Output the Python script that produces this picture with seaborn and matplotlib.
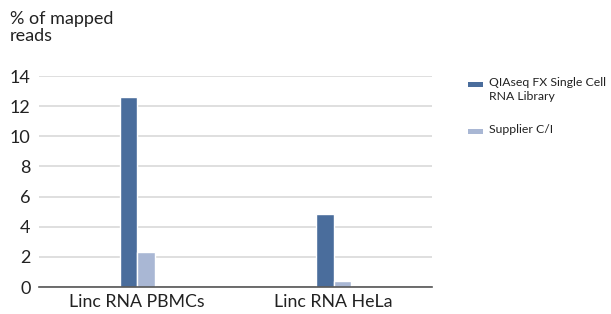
import matplotlib
matplotlib.use("Agg")
import matplotlib.pyplot as plt
from matplotlib.patches import Rectangle
import seaborn as sns
import pandas as pd

categories = ["Linc RNA PBMCs", "Linc RNA HeLa"]
series_names = ["QIAseq FX Single Cell\nRNA Library", "Supplier C/I"]
qiaseq_values = [12.6, 4.85]
supplier_values = [2.3, 0.42]
y_ticks = [0, 2, 4, 6, 8, 10, 12, 14]

df = pd.DataFrame({
    "category": categories * 2,
    "series": [series_names[0]] * 2 + [series_names[1]] * 2,
    "value": qiaseq_values + supplier_values,
})

sns.set_theme(style="white")
plt.rcParams['font.family'] = ['Lato', 'DejaVu Sans']

W, H = 611, 314
fig = plt.figure(figsize=(W/100, H/100), dpi=100)
ax = fig.add_axes([39/W, 1-287/H, (432-39)/W, (287-76)/H])

colors = ["#4a6d9c", "#a9b7d4"]
palette = {series_names[0]: colors[0], series_names[1]: colors[1]}
sns.barplot(data=df, x="category", y="value", hue="series", palette=palette,
            width=0.18, edgecolor="white", linewidth=1.0, ax=ax, legend=False, saturation=1)

ax.set_xlim(-0.5, 1.5)
ax.set_ylim(0, 14)
ax.set_yticks(y_ticks)
ax.set_yticklabels([str(t) for t in y_ticks])
ax.yaxis.grid(True, color="#d9d9d9", linewidth=1.2)
ax.set_axisbelow(True)
for s in ["top", "right", "left"]:
    ax.spines[s].set_visible(False)
ax.spines["bottom"].set_color("#555555")
ax.spines["bottom"].set_linewidth(1.2)
ax.tick_params(axis="y", length=0, pad=6, labelsize=13, colors="#222222")
ax.tick_params(axis="x", length=0, pad=5, labelsize=12.8, colors="#222222")
ax.set_xlabel("")
ax.set_ylabel("")

# manual legend
legend_rows = [(84, series_names[0]), (131, series_names[1])]
for (yc, name), col in zip(legend_rows, colors):
    fig.add_artist(Rectangle((468/W, 1-(yc+2.5)/H), 15/W, 5/H,
                             transform=fig.transFigure, facecolor=col, edgecolor="none"))
    fig.text(489/W, 1-(yc-7)/H, name, ha="left", va="top", fontsize=8.8,
             color="#222222", linespacing=1.3)

fig.text(10/W, 1-11/H, "% of mapped\nreads", ha="left", va="top", fontsize=13,
         color="#222222", linespacing=1.05)

fig.savefig("out.png", dpi=100)
